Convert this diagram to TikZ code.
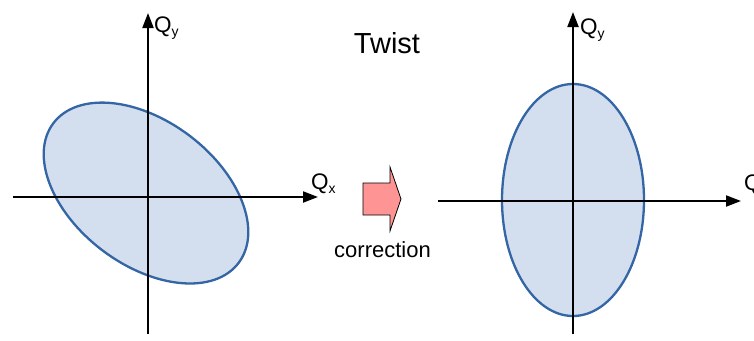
\documentclass[tikz,border=0pt]{standalone}
\usepackage{fontspec}
\setmainfont{Liberation Sans}
\usetikzlibrary{arrows.meta}
\newcommand\qlabel[1]{Q{\fontsize{14}{14}\selectfont\raisebox{-4pt}{#1}}}
\definecolor{ellfill}{HTML}{D3DFEE}
\definecolor{ellline}{HTML}{3465A4}
\definecolor{blockfill}{HTML}{FF9494}
\begin{document}
\begin{tikzpicture}[x=1pt,y=-1pt,
  axis/.style={line width=2pt,-{Triangle[length=15pt,width=11pt]}},
  ell/.style={fill=ellfill,draw=ellline,line width=2.3pt},
  lbl/.style={inner sep=0pt,anchor=base west,font=\fontsize{22.5}{22.5}\selectfont},
  block/.style={fill=blockfill,draw=black,line width=0.8pt,line join=miter}]
\useasboundingbox (0,0) rectangle (754,340);

% left plot: tilted ellipse
\coordinate (lc) at (146,193);
\draw[ell,rotate around={-37:(lc)}] (lc) ellipse [x radius=116pt,y radius=72pt];
\coordinate (lxs) at (13,197);
\coordinate (lxe) at (318,197);
\coordinate (lys) at (148,334);
\coordinate (lye) at (148,13);
\draw[axis] (lxs) -- (lxe);
\draw[axis] (lys) -- (lye);
\node[lbl] (lqy) at (154,32) {\qlabel{y}};
\node[lbl] (lqx) at (311,189) {\qlabel{x}};

% right plot: upright ellipse
\coordinate (rc) at (573,200);
\draw[ell] (rc) ellipse [x radius=71pt,y radius=116pt];
\coordinate (rxs) at (438,201);
\coordinate (rxe) at (741,201);
\coordinate (rys) at (573,334);
\coordinate (rye) at (573,12);
\draw[axis] (rxs) -- (rxe);
\draw[axis] (rys) -- (rye);
\node[lbl] (rqy) at (580,34) {\qlabel{y}};
\node[lbl] (rqx) at (744,190) {Q};

% block arrow between the plots
\draw[block] (363,183) -- (390,183) -- (390,167) -- (401,199)
  -- (390,231) -- (390,215) -- (363,215) -- cycle;

\node[inner sep=0pt,anchor=base,font=\fontsize{29}{29}\selectfont] (twist) at (387,53) {Twist};
\node[inner sep=0pt,anchor=base,font=\fontsize{22}{22}\selectfont] (corr) at (382.5,257) {correction};
\end{tikzpicture}
\end{document}
